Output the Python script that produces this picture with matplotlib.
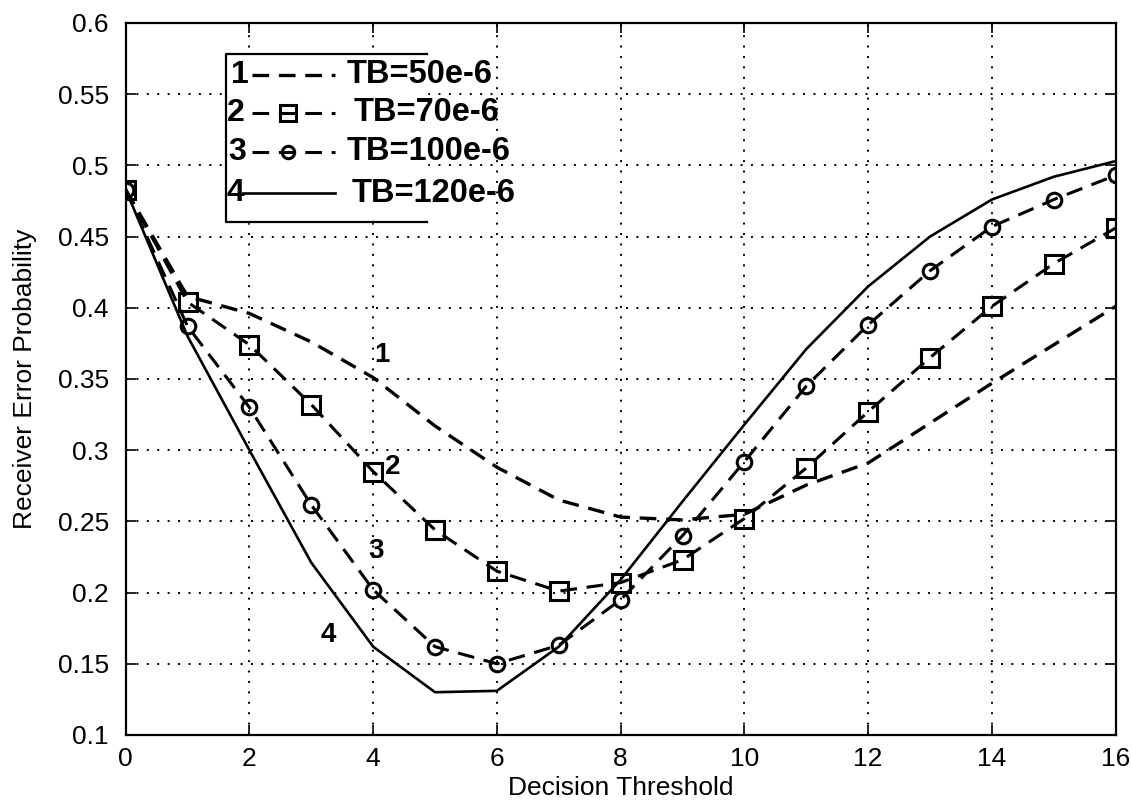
import matplotlib
matplotlib.use("Agg")
import matplotlib.pyplot as plt

plt.rcParams['font.family'] = ['Liberation Sans', 'DejaVu Sans']
plt.rcParams['lines.scale_dashes'] = False

# ---------------- data ----------------
thresholds = list(range(17))
tb50 = [0.483, 0.408, 0.396, 0.376, 0.351, 0.317, 0.288, 0.265, 0.253, 0.251,
        0.255, 0.2755, 0.291, 0.319, 0.347, 0.374, 0.401]
tb70 = [0.483, 0.404, 0.374, 0.332, 0.285, 0.244, 0.215, 0.201, 0.207, 0.223,
        0.252, 0.2875, 0.327, 0.365, 0.401, 0.431, 0.456]
tb100 = [0.483, 0.387, 0.330, 0.2615, 0.202, 0.162, 0.150, 0.163, 0.195, 0.240,
         0.292, 0.345, 0.388, 0.426, 0.457, 0.476, 0.493]
tb120 = [0.483, 0.380, 0.300, 0.221, 0.162, 0.130, 0.131, 0.162, 0.209, 0.264,
         0.318, 0.371, 0.415, 0.450, 0.476, 0.492, 0.503]

legend_numbers = ['1', '2', '3', '4']
legend_labels = ['TB=50e-6', 'TB=70e-6', 'TB=100e-6', 'TB=120e-6']

curve_tags = ['1', '2', '3', '4']
curve_tag_x = [4.14, 4.32, 4.04, 3.27]
curve_tag_y = [0.367, 0.288, 0.229, 0.170]

xticks = [0, 2, 4, 6, 8, 10, 12, 14, 16]
yticks = [0.1, 0.15, 0.2, 0.25, 0.3, 0.35, 0.4, 0.45, 0.5, 0.55, 0.6]
ytick_labels = ['0.1', '0.15', '0.2', '0.25', '0.3', '0.35', '0.4', '0.45',
                '0.5', '0.55', '0.6']

# ---------------- figure ----------------
fig = plt.figure(figsize=(11.32, 8.05), dpi=100)
ax = fig.add_axes([0.111, 0.087, 0.8746, 0.8845])

dash = (0, (12, 7))
styles = [
    dict(color='black', lw=2.4, linestyle=dash),
    dict(color='black', lw=2.2, linestyle=dash, marker='s', ms=13, mew=2.2,
         mfc='none', mec='black'),
    dict(color='black', lw=2.2, linestyle=dash, marker='o', ms=10.5, mew=2.2,
         mfc='none', mec='black'),
    dict(color='black', lw=1.9, linestyle='-'),
]
series = [tb50, tb70, tb100, tb120]
for ys, st in zip(series, styles):
    ax.plot(thresholds, ys, **st)

ax.set_xlim(0, 16)
ax.set_ylim(0.1, 0.6)
ax.set_xticks(xticks)
ax.set_yticks(yticks)
ax.set_yticklabels(ytick_labels)
ax.tick_params(axis='both', which='major', direction='in', length=7, width=1.2,
               top=True, right=True, labelsize=19, colors='black', pad=9)
ax.tick_params(axis='y', pad=12)
for sp in ax.spines.values():
    sp.set_linewidth(1.6)
ax.grid(True, color='black', linestyle=(0, (1.4, 6.1)), linewidth=1.4)

ax.set_xlabel('Decision Threshold', fontsize=19, labelpad=3)
ax.set_ylabel('Receiver Error Probability', fontsize=19, labelpad=15)

# curve tags
for t, tx, ty in zip(curve_tags, curve_tag_x, curve_tag_y):
    ax.text(tx, ty, t, fontsize=20, fontweight='bold', ha='center', va='center')

# hand-drawn legend (axes fraction)
tr = ax.transAxes
bx0, bx1, by0, by1 = 0.101, 0.304, 0.721, 0.956
ax.fill([bx0, bx1, bx1, bx0], [by0, by0, by1, by1], color='white',
        transform=tr, zorder=4)
ax.plot([bx1, bx0, bx0, bx1], [by1, by1, by0, by0], color='black', lw=1.6,
        transform=tr, clip_on=False, zorder=5)
row_y = [0.927, 0.874, 0.819, 0.761]
num_x = [0.115, 0.111, 0.113, 0.111]
line_x0 = [0.128, 0.128, 0.128, 0.119]
text_x = [0.223, 0.230, 0.223, 0.228]
for i in range(4):
    ry = row_y[i]
    ax.text(num_x[i], ry, legend_numbers[i], transform=tr, fontsize=23,
            fontweight='bold', ha='center', va='center', zorder=6)
    st = dict(styles[i])
    st.pop('marker', None)
    ax.plot([line_x0[i], 0.211], [ry, ry], transform=tr, zorder=6, **st)
    if 'marker' in styles[i]:
        ax.plot([0.164], [ry], transform=tr, zorder=6, linestyle='none',
                marker=styles[i]['marker'], ms=styles[i]['ms'] * 0.85,
                mew=2.2, mfc='none', mec='black')
    ax.text(text_x[i], ry, legend_labels[i], transform=tr, fontsize=23.5,
            fontweight='bold', ha='left', va='center', zorder=6)

fig.savefig('out.png', dpi=100, facecolor='white')
